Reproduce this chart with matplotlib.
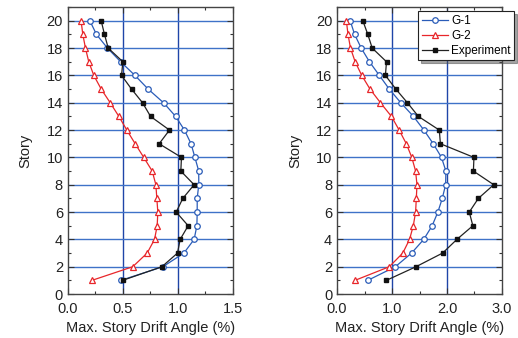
import matplotlib.pyplot as plt
from matplotlib.ticker import MultipleLocator

plt.rcParams['font.family'] = ['Liberation Sans', 'DejaVu Sans']

# Dados: andares e angulos de drift (%)
stories = list(range(20, 0, -1))

# grafico esquerdo
g1_left = [0.20, 0.26, 0.36, 0.48, 0.61, 0.73, 0.87, 0.98, 1.06, 1.12,
           1.155, 1.19, 1.19, 1.176, 1.176, 1.173, 1.148, 1.055, 0.864, 0.48]
g2_left = [0.12, 0.136, 0.16, 0.19, 0.236, 0.303, 0.385, 0.464, 0.536, 0.612,
           0.69, 0.767, 0.80, 0.809, 0.818, 0.812, 0.788, 0.721, 0.59, 0.218]
exp_left = [0.303, 0.333, 0.367, 0.50, 0.488, 0.579, 0.679, 0.752, 0.924, 0.83,
            1.033, 1.027, 1.148, 1.045, 0.985, 1.094, 1.021, 0.997, 0.855, 0.497]

# grafico direito
g1_right = [0.24, 0.32, 0.44, 0.59, 0.77, 0.95, 1.16, 1.39, 1.58, 1.75,
            1.90, 1.98, 1.975, 1.914, 1.834, 1.73, 1.577, 1.356, 1.061, 0.558]
g2_right = [0.17, 0.20, 0.245, 0.33, 0.45, 0.60, 0.79, 0.99, 1.13, 1.26,
            1.36, 1.429, 1.454, 1.442, 1.429, 1.387, 1.319, 1.196, 0.951, 0.325]
exp_right = [0.47, 0.56, 0.64, 0.90, 0.88, 1.07, 1.28, 1.48, 1.86, 1.88,
             2.49, 2.48, 2.85, 2.57, 2.405, 2.47, 2.18, 1.92, 1.436, 0.896]

fig = plt.figure(figsize=(5.18, 3.38), dpi=100)
ax1 = fig.add_axes([0.131, 0.130, 0.3185, 0.849])
ax2 = fig.add_axes([0.6506, 0.130, 0.3185, 0.849])

paineis = [
    (ax1, g1_left, g2_left, exp_left, 1.5, 0.5, 0.25),
    (ax2, g1_right, g2_right, exp_right, 3.0, 1.0, 0.5),
]

for ax, g1, g2, ex, xmax, maj, mnr in paineis:
    # grade azul
    for v in [maj * k for k in range(1, int(round(xmax / maj)))]:
        ax.axvline(v, color='#1f45a8', lw=1.0, zorder=1)
    for s in range(2, 21, 2):
        ax.axhline(s, color='#3f72c8', lw=1.0, zorder=1)

    ax.plot(g1, stories, color='#2a5cb8', lw=0.9, marker='o', ms=4,
            mfc='white', mec='#2a5cb8', mew=0.9, label='G-1', zorder=3)
    ax.plot(g2, stories, color='#e8262a', lw=0.9, marker='^', ms=4.5,
            mfc='white', mec='#e8262a', mew=0.9, label='G-2', zorder=3)
    ax.plot(ex, stories, color='#222222', lw=0.9, marker='s', ms=3.5,
            mfc='#111111', mec='#111111', label='Experiment', zorder=4)

    ax.set_xlim(0, xmax)
    ax.set_ylim(0, 21)
    ax.xaxis.set_major_locator(MultipleLocator(maj))
    ax.xaxis.set_minor_locator(MultipleLocator(mnr))
    ax.yaxis.set_major_locator(MultipleLocator(2))
    ax.yaxis.set_minor_locator(MultipleLocator(1))
    ax.xaxis.set_major_formatter(plt.FormatStrFormatter('%.1f'))
    ax.tick_params(which='both', direction='in', top=True, right=True,
                   color='#333333', labelsize=10.5, labelcolor='#222222')
    ax.tick_params(which='major', length=4, width=0.8)
    ax.tick_params(which='minor', length=2.5, width=0.8)
    ax.tick_params(axis='x', which='major', pad=6)
    for sp in ax.spines.values():
        sp.set_color('#444444')
        sp.set_linewidth(1.0)
    ax.set_xlabel('Max. Story Drift Angle (%)', fontsize=10.5, color='#222222', labelpad=3)
    ax.set_ylabel('Story', fontsize=10.5, color='#222222', labelpad=10)

leg = ax2.legend(loc='upper right', bbox_to_anchor=(1.075, 0.985),
                 fontsize=8.5, frameon=True, fancybox=False, shadow=True,
                 handlelength=2.2, handletextpad=0.3, borderpad=0.3,
                 labelspacing=0.25, borderaxespad=0)
leg.get_frame().set_edgecolor('#222222')
leg.get_frame().set_linewidth(0.8)
leg.get_frame().set_alpha(1)

plt.savefig('out.png', dpi=100)
